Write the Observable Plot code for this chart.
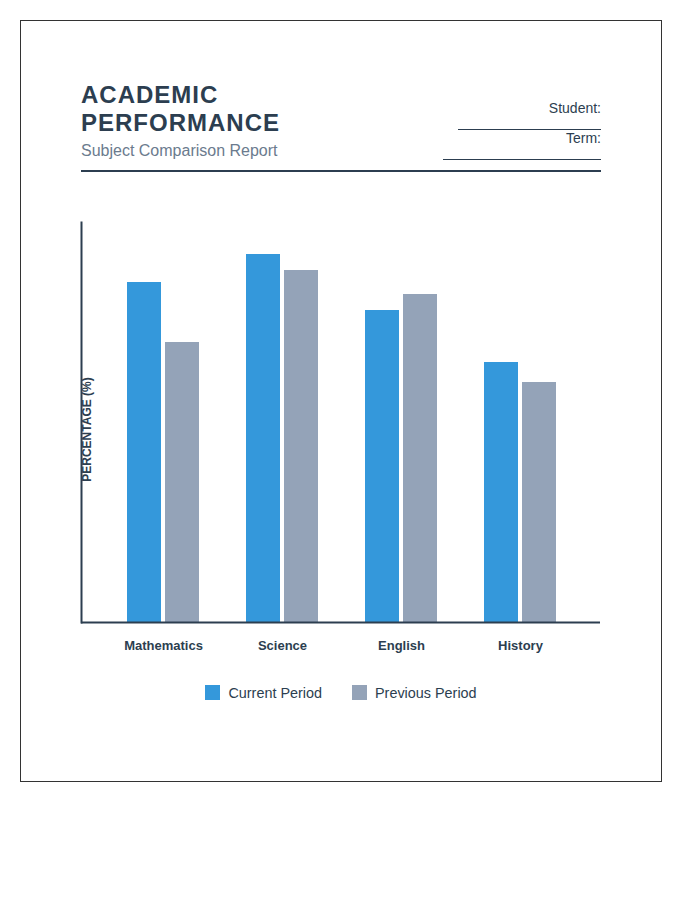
<!DOCTYPE html>
<html>
<head>
<meta charset="utf-8">
<script src="https://cdn.jsdelivr.net/npm/d3@7"></script>
<script src="https://cdn.jsdelivr.net/npm/@observablehq/plot@0.6"></script>
<style>
  html, body { margin: 0; padding: 0; background: #fff; }
  body { font-family: "Liberation Sans", Arial, sans-serif; color: #2c3e50; }
  .page {
    position: absolute; left: 20px; top: 20px;
    width: 642px; height: 762px; box-sizing: border-box;
    border: 1px solid #333; padding: 60px 60px 0 60px;
  }
  .header {
    display: flex; justify-content: space-between; align-items: flex-end;
    border-bottom: 2px solid #2c3e50; padding-bottom: 9px;
  }
  .title {
    margin: 0; font-size: 24px; line-height: 28px; font-weight: bold;
    letter-spacing: 1px; color: #2c3e50; width: 230px;
  }
  .subtitle { margin-top: 4px; font-size: 16px; line-height: 20px; color: #6b7b8e; }
  .meta { display: flex; flex-direction: column; align-items: flex-end; margin-bottom: 1px; }
  .meta div {
    font-size: 14px; line-height: 16px; text-align: right; color: #2c3e50;
    border-bottom: 1px solid #2c3e50; padding-bottom: 13px;
  }
  .chart { margin-top: 30px; margin-left: -1px; }
  .chart svg { overflow: visible; }
  .legend { margin-top: 14px; display: flex; justify-content: center; }
</style>
</head>
<body>
<div class="page">
  <div class="header">
    <div>
      <div class="title">ACADEMIC PERFORMANCE</div>
      <div class="subtitle">Subject Comparison Report</div>
    </div>
    <div class="meta">
      <div style="width:143px">Student:</div>
      <div style="width:158px">Term:</div>
    </div>
  </div>
  <div class="chart" id="chart"></div>
  <div class="legend" id="legend"></div>
</div>
<script>
const subjects = ["Mathematics", "Science", "English", "History"];
const currentPeriod = [85, 92, 78, 65];
const previousPeriod = [70, 88, 82, 60];
const seriesNames = ["Current Period", "Previous Period"];
const seriesColors = ["#3498db", "#94a3b8"];
const yLabel = "PERCENTAGE (%)";

const currentRows = subjects.map((s, i) => ({subject: s, series: seriesNames[0], value: currentPeriod[i]}));
const previousRows = subjects.map((s, i) => ({subject: s, series: seriesNames[1], value: previousPeriod[i]}));

const chart = Plot.plot({
  width: 521,
  height: 460,
  marginTop: 20,
  marginBottom: 40,
  marginLeft: 1,
  marginRight: 1,
  style: {fontFamily: "Liberation Sans, Arial, sans-serif", color: "#2c3e50", background: "transparent"},
  x: {domain: subjects, paddingInner: 0.396, paddingOuter: 0.373, align: 0.505, label: null},
  y: {domain: [0, 100], axis: null},
  color: {domain: seriesNames, range: seriesColors},
  marks: [
    Plot.barY(currentRows, {x: "subject", y: "value", fill: "series", insetRight: 38}),
    Plot.barY(previousRows, {x: "subject", y: "value", fill: "series", insetLeft: 38}),
    Plot.axisX({tickSize: 0, tickPadding: 18, fontSize: 13, fontWeight: "bold", fill: "#2c3e50", label: null}),
    Plot.ruleY([0], {stroke: "#2c3e50", strokeWidth: 2}),
    Plot.frame({anchor: "left", stroke: "#2c3e50", strokeWidth: 2}),
    Plot.text([yLabel], {frameAnchor: "left", text: d => d, rotate: -90, textAnchor: "middle", dx: 6, dy: 7, fontSize: 12, fontWeight: "bold", fill: "#2c3e50"})
  ]
});
document.getElementById("chart").appendChild(chart);

const legend = Plot.legend({
  legend: "swatches",
  color: {domain: seriesNames, range: seriesColors},
  swatchSize: 15,
  style: {fontSize: "14.4px", color: "#2c3e50", fontFamily: "Liberation Sans, Arial, sans-serif"}
});
document.getElementById("legend").appendChild(legend);
const st = document.createElement("style");
st.textContent = `#legend span { margin-right: 30px !important; } #legend span:last-child { margin-right: 0 !important; } #legend svg { margin-right: 8px !important; }`;
document.head.appendChild(st);
</script>
</body>
</html>
